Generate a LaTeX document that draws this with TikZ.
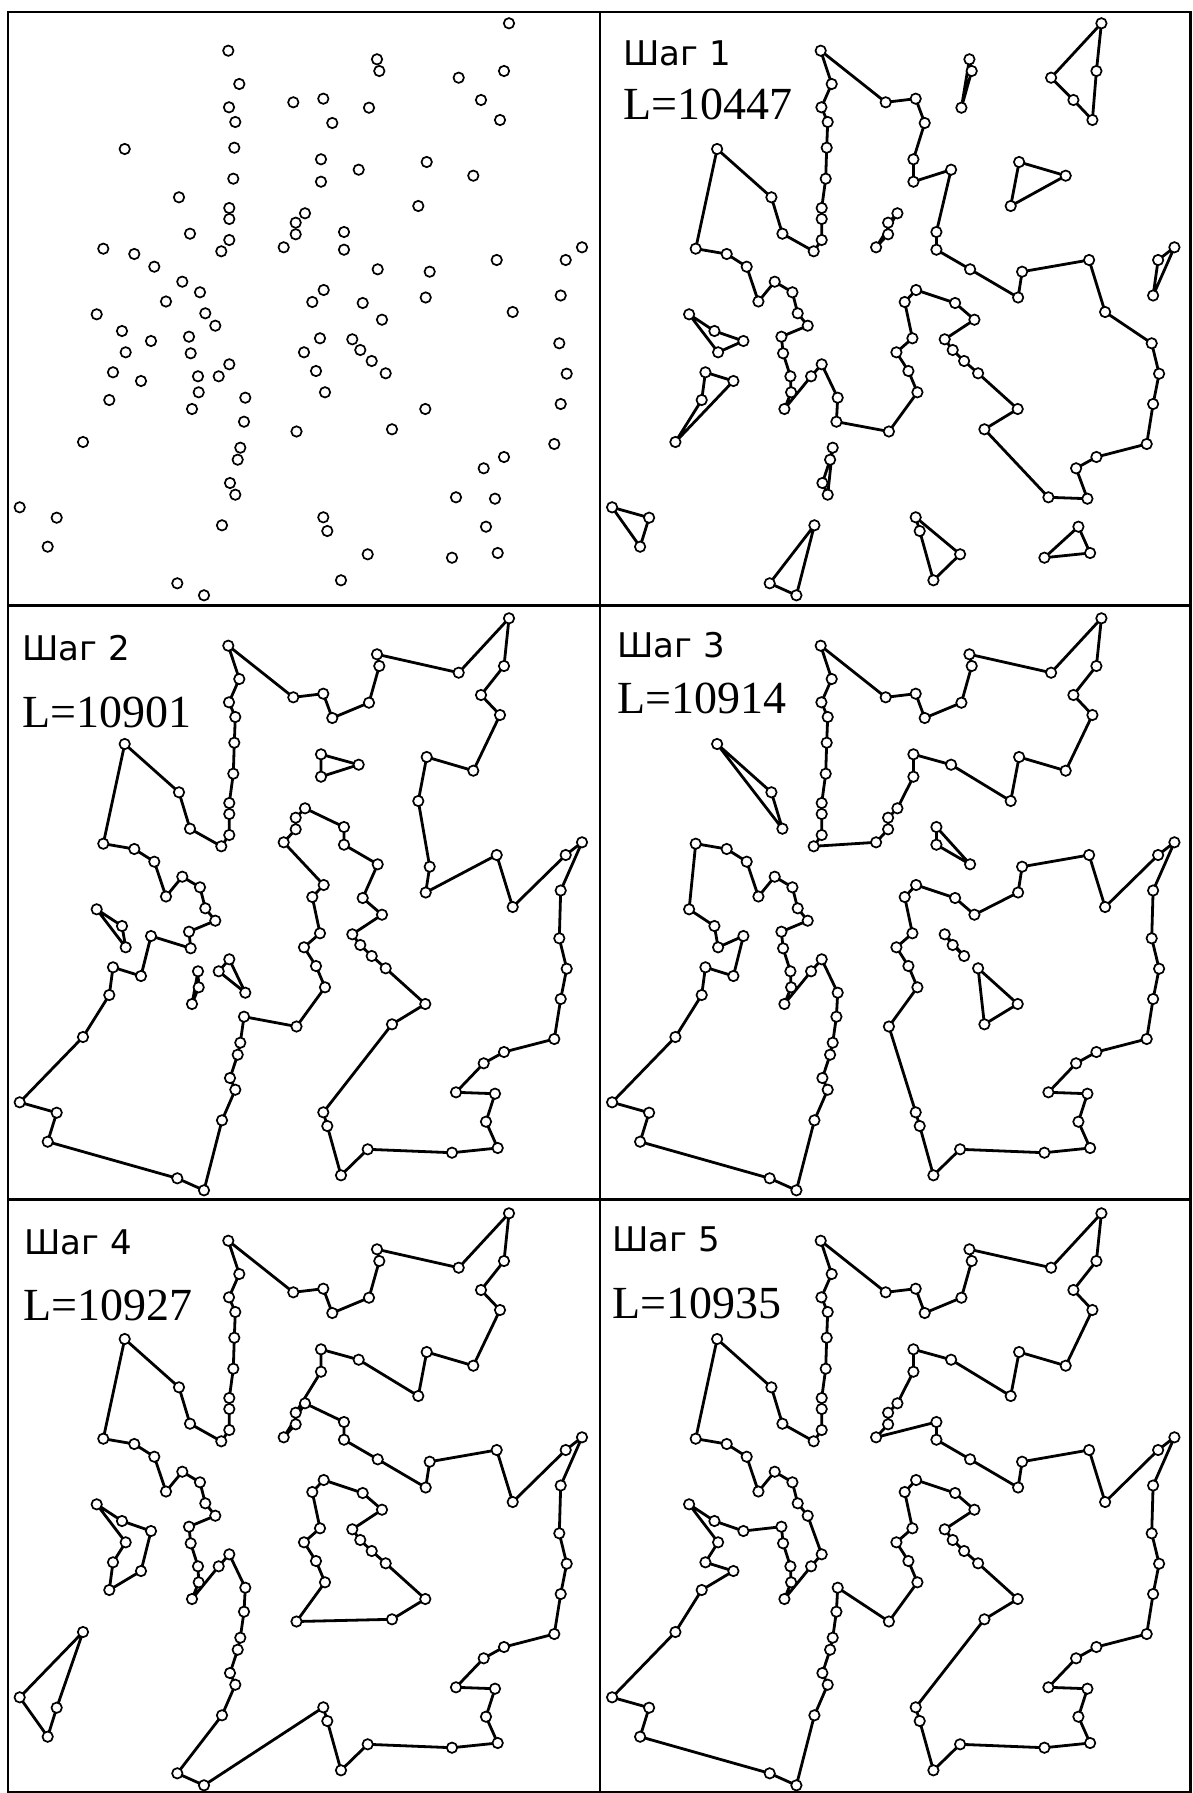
\documentclass[tikz,border=0pt]{standalone}
\usepackage{fontspec}
\newfontfamily\stepfont{DejaVu Sans}
\newfontfamily\lenfont{Liberation Serif}
\def\pts{1/228.3/50.7, 2/239.3/84, 3/293.3/102.3, 4/229/107.3, 5/235.3/122, 6/124.7/149, 7/234.3/147.7, 8/233.3/178.7, 9/179/197.3, 10/229.3/208, 11/229.3/219, 12/305/213.3, 13/295.7/222.7, 14/295.7/234.3, 15/190/233.7, 16/229.3/240, 17/221.3/251.3, 18/283.7/247.3, 19/103.3/248.7, 20/134.3/254, 21/154.3/266.7, 22/182.3/281.7, 23/200/292.3, 24/166/301.5, 25/509/23.3, 26/377/59.3, 27/379.3/71, 28/458.7/77.7, 29/504/71, 30/323.3/98.7, 31/369/107.7, 32/481/100, 33/332.3/123, 34/500/120, 35/321/159.3, 36/358.7/169.7, 37/426.7/162, 38/473.3/175.7, 39/321/181.7, 40/418.3/206, 41/344/232, 42/344/249.7, 43/582/247.3, 44/565.7/260, 45/496.7/260, 46/377.7/269.3, 47/429.7/271.7, 48/323.7/290, 49/312.3/302, 50/362.7/303, 51/425.7/297.5, 52/560.7/295.5, 53/96.7/314.3, 54/205.3/313.3, 55/215.3/325.7, 56/122/331, 57/151/341, 58/189/336.7, 59/125.7/352.3, 60/190.7/353.3, 61/304/352.3, 62/229.3/364.3, 63/113/372.3, 64/141/381, 65/198/376.3, 66/218.7/376.3, 67/198.7/392.3, 68/109.3/400, 69/192/409, 70/245.3/397.7, 71/244/421.7, 72/296.5/431.5, 73/83/442, 74/240.3/447.7, 75/237.7/459.7, 76/230/483, 77/235.3/494.7, 78/19.7/507.3, 79/56.7/517.7, 80/222/525.3, 81/47.7/546.7, 82/177.3/583.3, 83/204/595.3, 84/512.7/312, 85/382/319.7, 86/320/338.3, 87/352.3/339.3, 88/360.3/350, 89/371.7/361, 90/385.7/373.3, 91/316/371, 92/559.3/343.3, 93/566.7/373.7, 94/325/392.3, 95/425.3/409, 96/560.7/404, 97/392/429.3, 98/554.3/444, 99/504/457, 100/483.7/468.3, 101/456/497.3, 102/495/498.7, 103/323.3/517.3, 104/327.3/531, 105/486/526.7, 106/367.7/554.3, 107/452/557.7, 108/497.7/553, 109/341/580.3}
\begin{document}
\begin{tikzpicture}[x=1pt,y=-1pt,
  tour/.style={line width=2.8pt, line join=round},
  city/.style={fill=white, draw=black, line width=1.7pt},
  frame/.style={line width=2.2pt},
  steplabel/.style={anchor=base west, inner sep=0pt, font=\stepfont\fontsize{34}{34}\selectfont},
  lenlabel/.style={anchor=base west, inner sep=0pt, font=\lenfont\fontsize{46}{46}\selectfont}]
\useasboundingbox (0,0) rectangle (1192,1793);
\fill[white] (0,0) rectangle (1192,1793);
% city coordinates, one copy per panel
\foreach \p/\dx/\dy in {A/0/0, B/592.4/0, C/0/595, D/592.4/595, E/0/1190, F/592.4/1190}{
  \foreach \i/\x/\y in \pts {\coordinate (\p-\i) at (\x+\dx,\y+\dy);}
}
% ---- Step 1 ----
\draw[tour] (B-1) \foreach \j in {2,4,5,7,8,10,11,16,17,15,9,6,19,20,21,24,22,23,54,55,58,60,65,67,69,66,62,70,71,72,94,91,61,86,49,48,50,85,87,88,89,90,95,97,101,102,100,99,98,96,93,92,84,45,47,51,46,42,41,36,39,35,33,30,3} {-- (B-\j)} -- cycle;
\draw[tour] (B-26) -- (B-27) -- (B-31) -- cycle;
\draw[tour] (B-25) -- (B-28) -- (B-32) -- (B-34) -- (B-29) -- cycle;
\draw[tour] (B-37) -- (B-38) -- (B-40) -- cycle;
\draw[tour] (B-12) -- (B-13) -- (B-14) -- (B-18) -- cycle;
\draw[tour] (B-43) -- (B-44) -- (B-52) -- cycle;
\draw[tour] (B-53) -- (B-56) -- (B-57) -- (B-59) -- cycle;
\draw[tour] (B-63) -- (B-64) -- (B-73) -- (B-68) -- cycle;
\draw[tour] (B-74) -- (B-75) -- (B-76) -- (B-77) -- cycle;
\draw[tour] (B-78) -- (B-79) -- (B-81) -- cycle;
\draw[tour] (B-80) -- (B-82) -- (B-83) -- cycle;
\draw[tour] (B-103) -- (B-106) -- (B-109) -- (B-104) -- cycle;
\draw[tour] (B-105) -- (B-108) -- (B-107) -- cycle;
% ---- Step 2 ----
\draw[tour] (C-1) \foreach \j in {3,30,33,31,27,26,28,25,29,32,34,38,37,40,47,51,45,84,44,43,52,92,93,96,98,99,100,101,102,105,108,107,106,109,104,103,97,95,90,89,88,87,85,50,46,42,41,12,13,14,18,48,49,86,61,91,94,72,71,74,75,76,77,80,83,82,81,79,78,73,68,63,64,57,60,58,55,54,23,22,24,21,20,19,6,9,15,17,16,11,10,8,7,5,4,2} {-- (C-\j)} -- cycle;
\draw[tour] (C-35) -- (C-36) -- (C-39) -- cycle;
\draw[tour] (C-53) -- (C-56) -- (C-59) -- cycle;
\draw[tour] (C-65) -- (C-67) -- (C-69) -- cycle;
\draw[tour] (C-62) -- (C-66) -- (C-70) -- cycle;
% ---- Step 3 ----
\draw[tour] (D-1) \foreach \j in {3,30,33,31,27,26,28,25,29,32,34,38,37,40,36,35,39,12,13,14,18,17,16,11,10,8,7,5,4,2} {-- (D-\j)} -- cycle;
\draw[tour] (D-19) \foreach \j in {20,21,24,22,23,54,55,58,60,65,67,69,66,62,70,71,74,75,76,77,80,83,82,81,79,78,73,68,63,64,57,59,56,53} {-- (D-\j)} -- cycle;
\draw[tour] (D-48) \foreach \j in {49,86,61,91,94,72,103,104,109,106,107,108,105,102,101,100,99,98,96,93,92,52,43,44,84,45,47,51,85,50} {-- (D-\j)} -- cycle;
\draw[tour] (D-6) -- (D-9) -- (D-15) -- cycle;
\draw[tour] (D-41) -- (D-42) -- (D-46) -- cycle;
\draw[tour] (D-90) -- (D-95) -- (D-97) -- cycle;
\draw[tour] (D-87) -- (D-88) -- (D-89) -- cycle;
% ---- Step 4 ----
\draw[tour] (E-1) \foreach \j in {3,30,33,31,27,26,28,25,29,32,34,38,37,40,36,35,39,13,14,18,12,41,42,46,51,47,45,84,44,43,52,92,93,96,98,99,100,101,102,105,108,107,106,109,104,103,83,82,80,77,76,75,74,71,70,62,66,69,67,65,60,58,55,54,23,22,24,21,20,19,6,9,15,17,16,11,10,8,7,5,4,2} {-- (E-\j)} -- cycle;
\draw[tour] (E-48) \foreach \j in {49,86,61,91,94,72,97,95,90,89,88,87,85,50} {-- (E-\j)} -- cycle;
\draw[tour] (E-53) \foreach \j in {56,57,64,68,63,59} {-- (E-\j)} -- cycle;
\draw[tour] (E-73) -- (E-78) -- (E-81) -- (E-79) -- cycle;
% ---- Step 5 ----
\draw[tour] (F-1) \foreach \j in {3,30,33,31,27,26,28,25,29,32,34,38,37,40,36,35,39,12,13,14,18,41,42,46,51,47,45,84,44,43,52,92,93,96,98,99,100,101,102,105,108,107,106,109,104,103,97,95,90,89,88,87,85,50,48,49,86,61,91,94,72,70,71,74,75,76,77,80,83,82,81,79,78,73,68,64,63,59,53,56,57,58,60,65,67,69,66,62,55,54,23,22,24,21,20,19,6,9,15,17,16,11,10,8,7,5,4,2} {-- (F-\j)} -- cycle;
% cities
\foreach \p in {A,B,C,D,E,F}{
  \foreach \i in {1,...,109} {\filldraw[city] (\p-\i) circle[radius=5.2pt];}
}
% frame
\draw[frame] (8,12) rectangle (1190.5,1792);
\draw[frame] (600,12) -- (600,1792);
\draw[frame] (8,605.5) -- (1190.5,605.5);
\draw[frame] (8,1199.5) -- (1190.5,1199.5);
% labels
\node[steplabel] (s1) at (623,66) {Шаг 1};
\node[lenlabel] (l1) at (623,119) {L=10447};
\node[steplabel] (s2) at (22,660) {Шаг 2};
\node[lenlabel] (l2) at (22,727) {L=10901};
\node[steplabel] (s3) at (617,657) {Шаг 3};
\node[lenlabel] (l3) at (617,713) {L=10914};
\node[steplabel] (s4) at (24,1254) {Шаг 4};
\node[lenlabel] (l4) at (23,1320) {L=10927};
\node[steplabel] (s5) at (612,1251) {Шаг 5};
\node[lenlabel] (l5) at (612,1318) {L=10935};
\end{tikzpicture}
\end{document}
